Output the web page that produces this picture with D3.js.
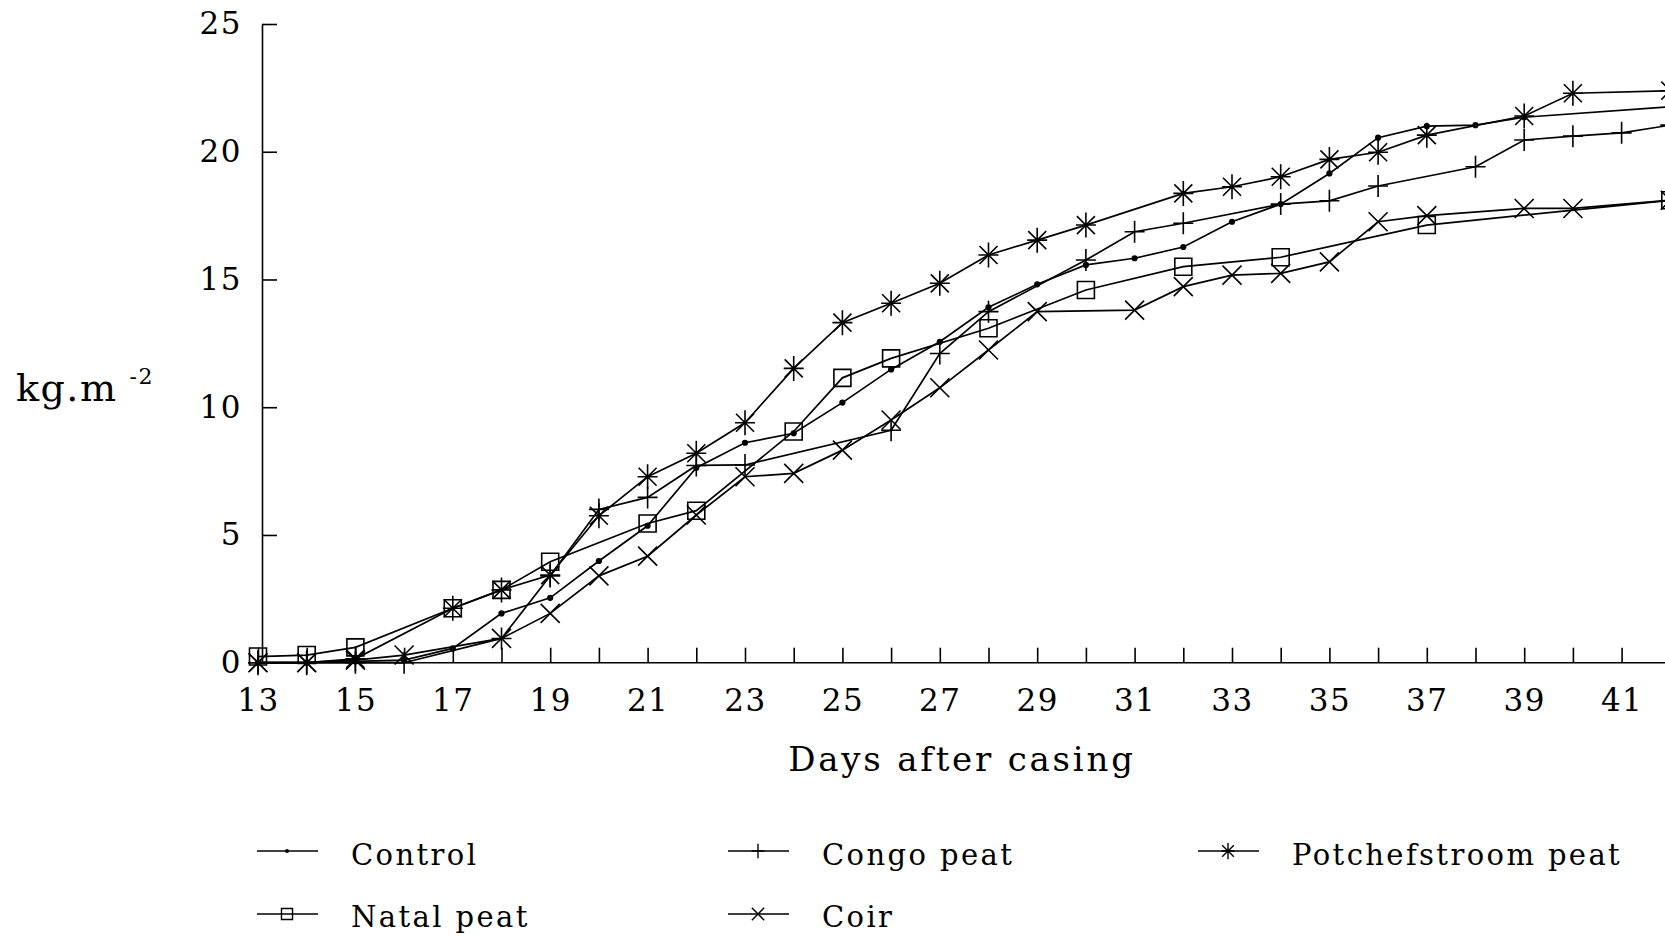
<!DOCTYPE html>
<html>
<head>
<meta charset="utf-8">
<script src="https://cdn.jsdelivr.net/npm/d3@7"></script>
<style>
	body { margin: 0; background: #fff; }
	svg { display: block; font-family: "DejaVu Serif", serif; }
	.axis path, .axis line { stroke: #000; stroke-width: 1.6; }
	.axis text { font-family: "DejaVu Serif", serif; font-size: 31px; fill: #000; letter-spacing: 1.5px; }
</style>
</head>
<body>
<div id="chart-area"></div>
<script>
// Dane
var controlDays = [13, 14, 15, 16, 17, 18, 19, 20, 21, 22, 23, 24, 25, 26, 27, 28, 29, 30, 31, 32, 33, 34, 35, 36, 37, 38, 39, 42];
var controlVals = [0, 0, 0.05, 0.1, 0.56, 1.93, 2.54, 3.98, 5.36, 7.63, 8.61, 8.98, 10.18, 11.48, 12.56, 13.91, 14.81, 15.57, 15.83, 16.27, 17.26, 17.95, 19.15, 20.55, 21.0, 21.04, 21.35, 21.76];

var congoDays = [13, 14, 15, 16, 18, 19, 20, 21, 22, 23, 26, 27, 28, 30, 31, 32, 34, 35, 36, 38, 39, 40, 41, 42];
var congoVals = [0, 0, 0, 0, 0.95, 3.4, 6.0, 6.47, 7.72, 7.74, 9.1, 12.1, 13.74, 15.76, 16.87, 17.2, 17.95, 18.08, 18.66, 19.41, 20.46, 20.61, 20.74, 21.04];

var potchDays = [13, 14, 15, 17, 18, 19, 20, 21, 22, 23, 24, 25, 26, 27, 28, 29, 30, 32, 33, 34, 35, 36, 37, 39, 40, 42];
var potchVals = [0, 0, 0.15, 2.13, 2.85, 3.43, 5.75, 7.28, 8.2, 9.39, 11.52, 13.31, 14.07, 14.85, 15.96, 16.54, 17.13, 18.37, 18.63, 19.02, 19.7, 19.98, 20.65, 21.4, 22.29, 22.39];

var natalDays = [13, 14, 15, 17, 18, 19, 21, 22, 24, 25, 26, 28, 30, 32, 34, 37, 42];
var natalVals = [0.24, 0.3, 0.6, 2.13, 2.85, 3.95, 5.45, 5.95, 9.05, 11.15, 11.91, 13.09, 14.59, 15.5, 15.87, 17.13, 18.1];

var coirDays = [13, 14, 15, 16, 18, 19, 20, 21, 22, 23, 24, 25, 26, 27, 28, 29, 31, 32, 33, 34, 35, 36, 37, 39, 40, 42];
var coirVals = [0, 0, 0.1, 0.3, 0.95, 1.93, 3.4, 4.17, 5.78, 7.28, 7.41, 8.32, 9.5, 10.76, 12.24, 13.74, 13.8, 14.72, 15.17, 15.24, 15.69, 17.26, 17.5, 17.78, 17.78, 18.1];

var seriesNames = ["Control", "Congo peat", "Potchefstroom peat", "Natal peat", "Coir"];
var markerTypes = ["dot", "plus", "star", "square", "cross"];

var yTickValues = [0, 5, 10, 15, 20, 25];
var xTickDays = [13, 14, 15, 16, 17, 18, 19, 20, 21, 22, 23, 24, 25, 26, 27, 28, 29, 30, 31, 32, 33, 34, 35, 36, 37, 38, 39, 40, 41, 42];
var xTickLabels = [13, 15, 17, 19, 21, 23, 25, 27, 29, 31, 33, 35, 37, 39, 41];

var series = [
	{ name: seriesNames[0], marker: markerTypes[0], days: controlDays, vals: controlVals },
	{ name: seriesNames[1], marker: markerTypes[1], days: congoDays, vals: congoVals },
	{ name: seriesNames[2], marker: markerTypes[2], days: potchDays, vals: potchVals },
	{ name: seriesNames[3], marker: markerTypes[3], days: natalDays, vals: natalVals },
	{ name: seriesNames[4], marker: markerTypes[4], days: coirDays, vals: coirVals }
];

// Obszar wykresu
var W = 1665, H = 936;
var svg = d3.select("#chart-area")
	.append("svg")
	.attr("width", W)
	.attr("height", H);

var x = d3.scaleLinear().domain([13, 42]).range([258, 1670.3]);
var y = d3.scaleLinear().domain([0, 25]).range([662.7, 24]);

// Osie
var xAxisCall = d3.axisBottom(x)
	.tickValues(xTickDays)
	.tickSizeInner(-15)
	.tickSizeOuter(0)
	.tickPadding(26)
	.tickFormat(d => xTickLabels.indexOf(d) >= 0 ? d : "");
svg.append("g")
	.attr("class", "axis x-axis")
	.attr("transform", "translate(0," + y(0) + ")")
	.call(xAxisCall);
svg.select(".x-axis .domain").attr("d", "M262,0H" + W);

var yAxisCall = d3.axisLeft(y)
	.tickValues(yTickValues)
	.tickSizeInner(-15)
	.tickSizeOuter(0)
	.tickPadding(20);
svg.append("g")
	.attr("class", "axis y-axis")
	.attr("transform", "translate(262,0)")
	.call(yAxisCall);

// Etykiety
svg.append("text")
	.attr("x", 962)
	.attr("y", 771)
	.attr("text-anchor", "middle")
	.attr("font-size", "34px")
	.attr("letter-spacing", "2.8px")
	.text("Days after casing");

var yLabel = svg.append("text")
	.attr("x", 16)
	.attr("y", 401)
	.attr("font-size", "38px")
	.attr("letter-spacing", "1.5px")
	.text("kg.m");
yLabel.append("tspan")
	.attr("dx", 12)
	.attr("dy", -17)
	.attr("font-size", "22px")
	.text("-2");

// Markery
function markerPath(type, k) {
	if (type === "dot") return d3.symbol(d3.symbolCircle, 30 * k * k)();
	if (type === "square") { var s = 8.5 * k; return "M" + -s + "," + -s + "H" + s + "V" + s + "H" + -s + "Z"; }
	if (type === "plus") { var v = 11 * k, h = 10 * k; return "M0," + -v + "V" + v + "M" + -h + ",0H" + h; }
	if (type === "cross") { var a = 9.5 * k; return "M" + -a + "," + -a + "L" + a + "," + a + "M" + -a + "," + a + "L" + a + "," + -a; }
	if (type === "star") {
		var v2 = 12.5 * k, h2 = 10 * k, a2 = 9 * k;
		return "M0," + -v2 + "V" + v2 + "M" + -h2 + ",0H" + h2 +
			"M" + -a2 + "," + -a2 + "L" + a2 + "," + a2 + "M" + -a2 + "," + a2 + "L" + a2 + "," + -a2;
	}
}

var line = d3.line()
	.x(d => x(d[0]))
	.y(d => y(d[1]));

var g = svg.append("g");
series.forEach(function (s) {
	var pts = s.days.map((d, i) => [d, s.vals[i]]);
	g.append("path")
		.datum(pts)
		.attr("fill", "none")
		.attr("stroke", "#000")
		.attr("stroke-width", 1.7)
		.attr("d", line);
	g.selectAll(null)
		.data(pts)
		.enter()
		.append("path")
		.attr("transform", d => "translate(" + x(d[0]) + "," + y(d[1]) + ")")
		.attr("d", markerPath(s.marker, 1))
		.attr("fill", s.marker === "dot" ? "#000" : "none")
		.attr("stroke", "#000")
		.attr("stroke-width", s.marker === "dot" ? 0 : 1.6);
});

// Legenda
var legendPos = [
	{ lx: 257, ty: 865, ly: 851 },
	{ lx: 728, ty: 865, ly: 851 },
	{ lx: 1198, ty: 865, ly: 851 },
	{ lx: 257, ty: 927, ly: 914 },
	{ lx: 728, ty: 927, ly: 914 }
];
var legend = svg.append("g");
series.forEach(function (s, i) {
	var p = legendPos[i];
	legend.append("line")
		.attr("x1", p.lx).attr("x2", p.lx + 61)
		.attr("y1", p.ly).attr("y2", p.ly)
		.attr("stroke", "#000")
		.attr("stroke-width", 1.6);
	legend.append("path")
		.attr("transform", "translate(" + (p.lx + 30) + "," + p.ly + ")")
		.attr("d", markerPath(s.marker, 0.65))
		.attr("fill", s.marker === "dot" ? "#000" : "none")
		.attr("stroke", "#000")
		.attr("stroke-width", s.marker === "dot" ? 0 : 1.4);
	legend.append("text")
		.attr("x", p.lx + 94)
		.attr("y", p.ty)
		.attr("font-size", "29px")
		.attr("letter-spacing", "2.4px")
		.text(s.name);
});
</script>
</body>
</html>
